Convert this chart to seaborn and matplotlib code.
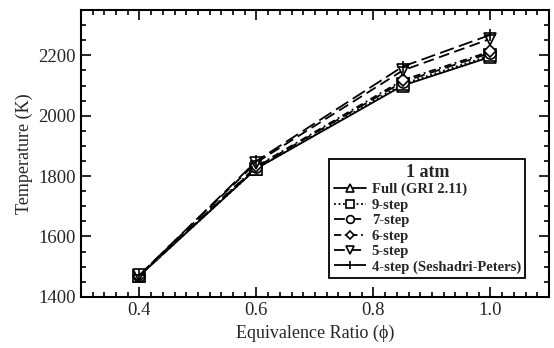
import matplotlib
matplotlib.use("Agg")
import matplotlib.pyplot as plt
import seaborn as sns
import pandas as pd
from matplotlib.ticker import MultipleLocator

phi = [0.4, 0.6, 0.85, 1.0]
full = [1470, 1825, 2100, 2195]
step9 = [1470, 1825, 2105, 2200]
step7 = [1470, 1830, 2112, 2208]
step6 = [1470, 1832, 2118, 2213]
step5 = [1472, 1845, 2150, 2255]
step4 = [1472, 1850, 2163, 2268]

labels = ["Full (GRI 2.11)", "9-step", "7-step", "6-step", "5-step", "4-step (Seshadri-Peters)"]
series = [full, step9, step7, step6, step5, step4]
markers = ["^", "s", "o", "D", "v", "+"]
dashes = [(None, None), (1, 1.5), (6, 3), (4, 2, 1, 2), (6, 3), (8, 3)]

rows = []
for lab, vals in zip(labels, series):
    for x, y in zip(phi, vals):
        rows.append({"phi": x, "T": y, "model": lab})
df = pd.DataFrame(rows)

sns.set_style("ticks")
plt.rcParams["font.family"] = ["Liberation Serif", "DejaVu Serif"]

fig = plt.figure(figsize=(5.54, 3.48), dpi=100)
ax = fig.add_axes([0.146, 0.147, 0.845, 0.824])

for lab, m, d in zip(labels, markers, dashes):
    sub = df[df["model"] == lab]
    sns.lineplot(data=sub, x="phi", y="T", ax=ax, color="black", marker=m,
                 markersize=8 if m != "D" else 6, markerfacecolor="white" if m != "+" else "black",
                 markeredgecolor="black", markeredgewidth=1.2, linewidth=1.3, label=lab)
    line = ax.get_lines()[-1]
    if d[0] is not None:
        line.set_dashes(d)

ax.set_xlim(0.3, 1.1)
ax.set_ylim(1400, 2350)
ax.xaxis.set_minor_locator(MultipleLocator(0.02))
ax.yaxis.set_major_locator(MultipleLocator(200))
ax.yaxis.set_minor_locator(MultipleLocator(50))
ax.set_xticks([0.4, 0.6, 0.8, 1.0])
ax.set_xticklabels(["0.4", "0.6", "0.8", "1.0"])
ax.tick_params(which="both", direction="in", top=True, right=True, color="black", width=1.2)
ax.tick_params(which="major", length=7, labelsize=13.5)
ax.tick_params(which="minor", length=3.5)
for s in ax.spines.values():
    s.set_linewidth(1.5)
    s.set_color("black")

ax.set_xlabel("Equivalence Ratio (\u03d5)", fontsize=13)
ax.set_ylabel("Temperature (K)", fontsize=13)

leg = ax.legend(title="1 atm", loc="lower right", bbox_to_anchor=(0.525, 0.04, 0.44, 0.5),
                frameon=True, fancybox=False, edgecolor="black", framealpha=1,
                fontsize=10.5, title_fontproperties={"weight": "bold", "size": 13},
                handlelength=2.2, handletextpad=0.4, labelspacing=0.15, borderpad=0.3,
                markerscale=0.7)
leg.get_frame().set_linewidth(1.3)
for t in leg.get_texts():
    t.set_fontweight("bold")

fig.savefig("out.png", dpi=100, facecolor="white")
